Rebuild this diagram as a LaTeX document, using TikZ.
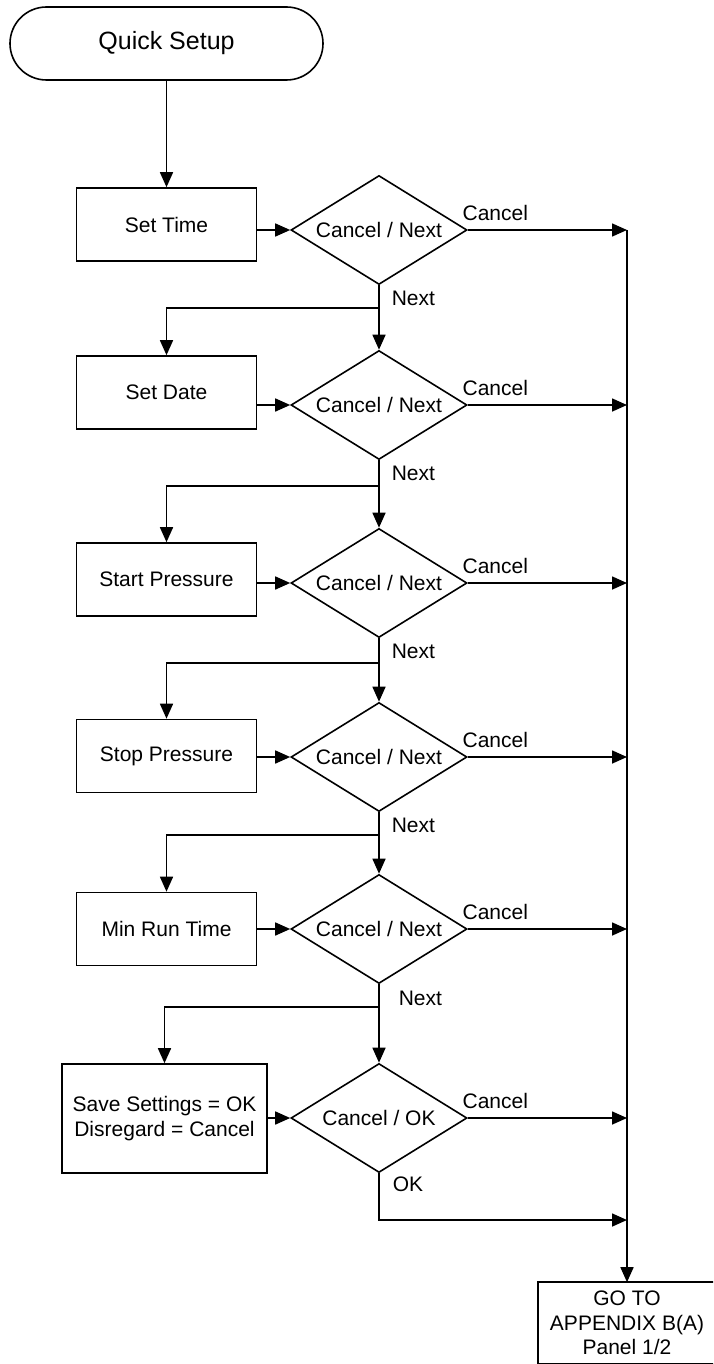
\documentclass[tikz,border=0pt]{standalone}
\usepackage{fontspec}
\setmainfont{Liberation Sans}
\usetikzlibrary{shapes.geometric,arrows.meta}
\begin{document}
\begin{tikzpicture}[x=1pt,y=-1pt,
  line width=1.6pt,
  font=\fontsize{21pt}{25pt}\selectfont,
  arr/.style={-{Triangle[length=15pt,width=13pt]}},
  procbox/.style={draw, rectangle, minimum width=180pt, minimum height=73pt, inner sep=0pt, align=center},
  decision/.style={draw, diamond, aspect=1.6, minimum width=176pt, minimum height=109pt, inner sep=0pt},
  lbl/.style={inner sep=0pt, anchor=west}]
\clip (0,0) rectangle (713,1364);
\fill[white] (0,0) rectangle (713,1364);

% terminal
\node[draw, rounded corners=36.5pt, minimum width=313pt, minimum height=73pt, inner sep=0pt,
      font=\fontsize{25pt}{30pt}\selectfont] (start) at (166.5,43.5) {Quick Setup};

% process boxes
\node[procbox] (b1) at (166.5,224.5) {Set Time};
\node[procbox] (b2) at (166.5,392.5) {Set Date};
\node[procbox] (b3) at (166.5,579.5) {Start Pressure};
\node[procbox] (b4) at (166.5,756) {Stop Pressure};
\node[procbox] (b5) at (166.5,929) {Min Run Time};
\node[procbox, minimum width=205pt, minimum height=109pt] (b6) at (164.5,1118.5) {Save Settings = OK\\Disregard = Cancel};

% decisions
\node[decision] (d1) at (379,230) {Cancel / Next};
\node[decision] (d2) at (379,405) {Cancel / Next};
\node[decision] (d3) at (379,583) {Cancel / Next};
\node[decision] (d4) at (379,757) {Cancel / Next};
\node[decision] (d5) at (379,929) {Cancel / Next};
\node[decision] (d6) at (379,1118) {Cancel / OK};

% goto box (its right edge runs past the page edge)
\node[rectangle, minimum width=176pt, minimum height=80pt, inner sep=0pt, align=center,
      font=\fontsize{21pt}{24.5pt}\selectfont] (go) at (627,1323) {GO TO\\APPENDIX B(A)\\Panel 1/2};
\draw (go.south west) rectangle ([xshift=30pt]go.north east);

% junction coordinates
\coordinate (j1) at (379,308);
\coordinate (j2) at (379,486);
\coordinate (j3) at (379,663);
\coordinate (j4) at (379,835);
\coordinate (j5) at (379,1007);
\coordinate (vtop) at (627,230);
\coordinate (okc) at (379,1220);

% start to first box
\draw[arr] (start.south -| b1.north) -- (b1.north);

% box to diamond, cancel exits
\foreach \i in {1,...,6} {
  \draw[arr] (b\i.east |- d\i.west) -- (d\i.west);
  \draw[arr] (d\i.east) -- (d\i.east -| go.north);
  \node[lbl] at ([shift={(-6,-17)}]d\i.east) {Cancel};
}

% next branches
\foreach \i/\n in {1/2,2/3,3/4,4/5,5/6} {
  \draw (d\i.south) -- (j\i);
  \draw[arr] (j\i) -- (d\n.north);
  \draw[arr] (j\i) -| (b\n.north);
}
\node[lbl] at ([shift={(12,13)}]d1.south) {Next};
\node[lbl] at ([shift={(12,13)}]d2.south) {Next};
\node[lbl] at ([shift={(12,13)}]d3.south) {Next};
\node[lbl] at ([shift={(12,13)}]d4.south) {Next};
\node[lbl] at ([shift={(19,14)}]d5.south) {Next};

% OK branch
\draw[arr] (d6.south) -- (okc) -- (okc -| go.north);
\node[lbl] at ([shift={(13,11)}]d6.south) {OK};

% vertical collector
\draw[arr] (vtop) -- (go.north);
\end{tikzpicture}
\end{document}
